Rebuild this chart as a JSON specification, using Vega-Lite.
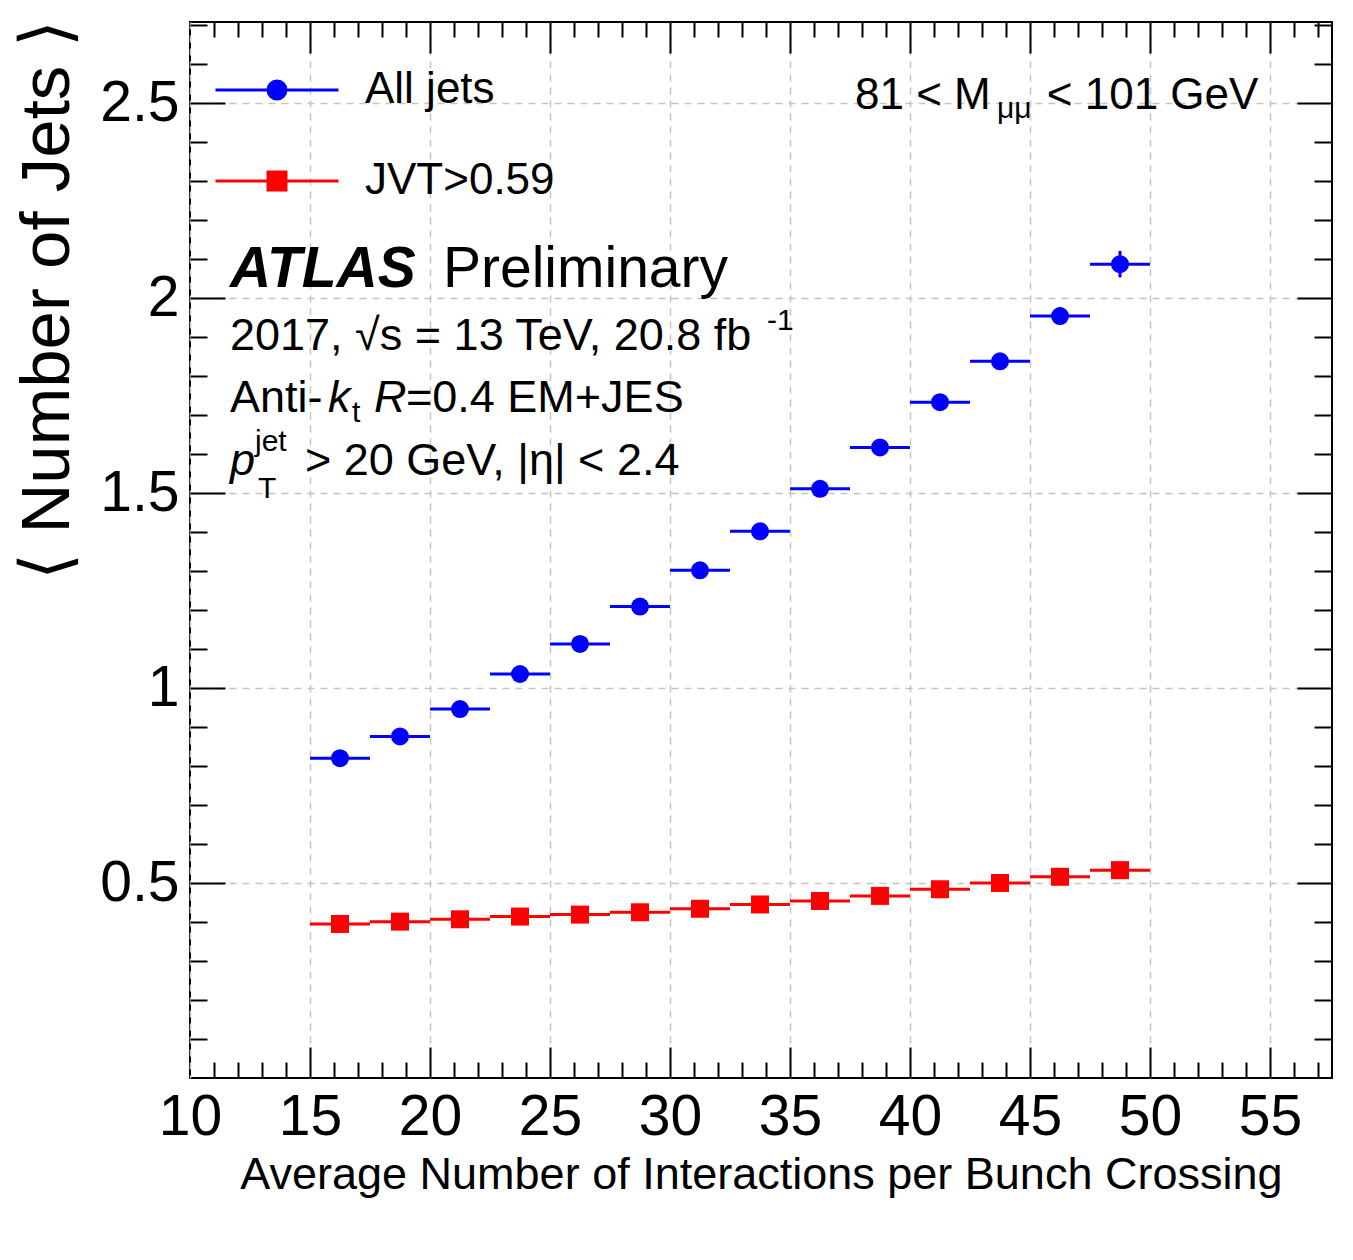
{
  "$schema": "https://vega.github.io/schema/vega-lite/v6.json",
  "width": 1142,
  "height": 1056,
  "autosize": {"type": "none"},
  "padding": {"left": 190, "top": 22, "right": 21, "bottom": 182},
  "background": "white",
  "config": {
    "view": {"stroke": "black", "strokeWidth": 2, "fill": "white"},
    "font": "Liberation Sans",
    "axis": {
      "domain": false,
      "labelFont": "Liberation Sans",
      "titleFont": "Liberation Sans",
      "labelColor": "black",
      "titleColor": "black",
      "tickColor": "black",
      "tickWidth": 2,
      "titleFontWeight": "normal",
      "labelFlush": false,
      "labelOverlap": false,
      "labelBound": false
    },
    "legend": {
      "title": null, "orient": "none", "legendX": 24, "legendY": 5, "direction": "vertical",
      "padding": 0, "rowPadding": 6, "labelFont": "Liberation Sans", "labelFontSize": 44,
      "labelColor": "black", "labelOffset": 25, "labelLimit": 500,
      "symbolSize": 15129, "symbolStrokeWidth": 3, "symbolOpacity": 1
    },
    "text": {"font": "Liberation Sans", "color": "black", "align": "left", "baseline": "alphabetic"}
  },
  "datasets": {
    "jets": [
      {"series": "All jets", "lo": 15, "hi": 17.5, "mu": 16.25, "val": 0.820, "ylo": 0.816, "yhi": 0.824},
      {"series": "All jets", "lo": 17.5, "hi": 20, "mu": 18.75, "val": 0.876, "ylo": 0.872, "yhi": 0.880},
      {"series": "All jets", "lo": 20, "hi": 22.5, "mu": 21.25, "val": 0.946, "ylo": 0.941, "yhi": 0.951},
      {"series": "All jets", "lo": 22.5, "hi": 25, "mu": 23.75, "val": 1.036, "ylo": 1.031, "yhi": 1.041},
      {"series": "All jets", "lo": 25, "hi": 27.5, "mu": 26.25, "val": 1.113, "ylo": 1.107, "yhi": 1.119},
      {"series": "All jets", "lo": 27.5, "hi": 30, "mu": 28.75, "val": 1.209, "ylo": 1.202, "yhi": 1.216},
      {"series": "All jets", "lo": 30, "hi": 32.5, "mu": 31.25, "val": 1.302, "ylo": 1.294, "yhi": 1.310},
      {"series": "All jets", "lo": 32.5, "hi": 35, "mu": 33.75, "val": 1.402, "ylo": 1.393, "yhi": 1.411},
      {"series": "All jets", "lo": 35, "hi": 37.5, "mu": 36.25, "val": 1.511, "ylo": 1.500, "yhi": 1.522},
      {"series": "All jets", "lo": 37.5, "hi": 40, "mu": 38.75, "val": 1.617, "ylo": 1.604, "yhi": 1.630},
      {"series": "All jets", "lo": 40, "hi": 42.5, "mu": 41.25, "val": 1.733, "ylo": 1.718, "yhi": 1.748},
      {"series": "All jets", "lo": 42.5, "hi": 45, "mu": 43.75, "val": 1.838, "ylo": 1.820, "yhi": 1.856},
      {"series": "All jets", "lo": 45, "hi": 47.5, "mu": 46.25, "val": 1.954, "ylo": 1.932, "yhi": 1.976},
      {"series": "All jets", "lo": 47.5, "hi": 50, "mu": 48.75, "val": 2.087, "ylo": 2.053, "yhi": 2.121},
      {"series": "JVT>0.59", "lo": 15, "hi": 17.5, "mu": 16.25, "val": 0.395, "ylo": 0.393, "yhi": 0.397},
      {"series": "JVT>0.59", "lo": 17.5, "hi": 20, "mu": 18.75, "val": 0.401, "ylo": 0.399, "yhi": 0.403},
      {"series": "JVT>0.59", "lo": 20, "hi": 22.5, "mu": 21.25, "val": 0.407, "ylo": 0.405, "yhi": 0.409},
      {"series": "JVT>0.59", "lo": 22.5, "hi": 25, "mu": 23.75, "val": 0.414, "ylo": 0.412, "yhi": 0.416},
      {"series": "JVT>0.59", "lo": 25, "hi": 27.5, "mu": 26.25, "val": 0.419, "ylo": 0.417, "yhi": 0.421},
      {"series": "JVT>0.59", "lo": 27.5, "hi": 30, "mu": 28.75, "val": 0.425, "ylo": 0.423, "yhi": 0.427},
      {"series": "JVT>0.59", "lo": 30, "hi": 32.5, "mu": 31.25, "val": 0.434, "ylo": 0.432, "yhi": 0.436},
      {"series": "JVT>0.59", "lo": 32.5, "hi": 35, "mu": 33.75, "val": 0.445, "ylo": 0.443, "yhi": 0.447},
      {"series": "JVT>0.59", "lo": 35, "hi": 37.5, "mu": 36.25, "val": 0.454, "ylo": 0.452, "yhi": 0.456},
      {"series": "JVT>0.59", "lo": 37.5, "hi": 40, "mu": 38.75, "val": 0.467, "ylo": 0.465, "yhi": 0.469},
      {"series": "JVT>0.59", "lo": 40, "hi": 42.5, "mu": 41.25, "val": 0.484, "ylo": 0.482, "yhi": 0.486},
      {"series": "JVT>0.59", "lo": 42.5, "hi": 45, "mu": 43.75, "val": 0.500, "ylo": 0.497, "yhi": 0.503},
      {"series": "JVT>0.59", "lo": 45, "hi": 47.5, "mu": 46.25, "val": 0.516, "ylo": 0.513, "yhi": 0.519},
      {"series": "JVT>0.59", "lo": 47.5, "hi": 50, "mu": 48.75, "val": 0.533, "ylo": 0.529, "yhi": 0.537}
    ]
  },
  "layer": [
    {
      "data": {"name": "jets"},
      "mark": {"type": "rule", "strokeWidth": 3},
      "encoding": {
        "x": {"field": "lo", "type": "quantitative",
          "scale": {"domain": [10, 57.583], "nice": false, "zero": false},
          "axis": {"orient": "bottom", "values": [10, 15, 20, 25, 30, 35, 40, 45, 50, 55], "format": "~g",
            "ticks": false, "labelFontSize": 57, "labelPadding": 56, "labelBaseline": "alphabetic",
            "grid": true, "gridDash": [7, 6], "gridColor": "#c4c4c4", "gridWidth": 1.5,
            "title": "Average Number of Interactions per Bunch Crossing", "titleFontSize": 45,
            "titleX": 1092, "titleY": 110, "titleAlign": "right", "titleBaseline": "alphabetic", "titleAnchor": "end"}},
        "x2": {"field": "hi"},
        "y": {"field": "val", "type": "quantitative",
          "scale": {"domain": [0, 2.708], "nice": false, "zero": false},
          "axis": {"orient": "left", "values": [0.5, 1, 1.5, 2, 2.5], "format": "~g",
            "ticks": false, "labelFontSize": 57, "labelPadding": 11,
            "grid": true, "gridDash": [7, 6], "gridColor": "#c4c4c4", "gridWidth": 1.5,
            "title": "⟨ Number of Jets ⟩", "titleFontSize": 69, "titleAngle": 270,
            "titleX": -122, "titleY": -3, "titleAlign": "right", "titleBaseline": "alphabetic", "titleAnchor": "end"}},
        "color": {"field": "series", "type": "nominal",
          "scale": {"domain": ["All jets", "JVT>0.59"], "range": ["#0000ff", "#ff0000"]},
          "legend": {
            "symbolType": "M-1,0L1,0",
            "encode": {"symbols": {"update": {
              "shape": {"signal": "datum.value === 'All jets' ? 'M-1,0L1,0M0.146,0A0.146,0.146,0,1,1,-0.146,0A0.146,0.146,0,1,1,0.146,0Z' : 'M-1,0L1,0M-0.146,-0.146L0.146,-0.146L0.146,0.146L-0.146,0.146Z'"},
              "fill": {"scale": "color", "field": "value"},
              "stroke": {"scale": "color", "field": "value"},
              "size": {"value": 15129},
              "strokeWidth": {"value": 3},
              "opacity": {"value": 1}
            }}}
          }}
      }
    },
    {
      "data": {"name": "jets"},
      "mark": {"type": "rule", "strokeWidth": 3},
      "encoding": {
        "x": {"field": "mu", "type": "quantitative",
          "scale": {"domain": [10, 57.583], "nice": false, "zero": false},
          "axis": {"orient": "bottom", "values": [15, 20, 25, 30, 35, 40, 45, 50, 55], "labels": false, "grid": false,
            "ticks": true, "tickSize": -31, "title": null}},
        "y": {"field": "ylo", "type": "quantitative",
          "scale": {"domain": [0, 2.708], "nice": false, "zero": false},
          "axis": {"orient": "left", "values": [0.5, 1, 1.5, 2, 2.5], "labels": false, "grid": false,
            "ticks": true, "tickSize": -35, "title": null}},
        "y2": {"field": "yhi"},
        "color": {"field": "series", "type": "nominal",
          "scale": {"domain": ["All jets", "JVT>0.59"], "range": ["#0000ff", "#ff0000"]}}
      }
    },
    {
      "data": {"name": "jets"},
      "transform": [{"filter": "datum.series === 'All jets'"}],
      "mark": {"type": "point", "shape": "circle", "filled": true, "size": 324, "opacity": 1},
      "encoding": {
        "x": {"field": "mu", "type": "quantitative",
          "scale": {"domain": [10, 57.583], "nice": false, "zero": false},
          "axis": {"orient": "bottom", "values": [11,12,13,14,16,17,18,19,21,22,23,24,26,27,28,29,31,32,33,34,36,37,38,39,41,42,43,44,46,47,48,49,51,52,53,54,56,57],
            "labels": false, "grid": false, "ticks": true, "tickSize": -16, "title": null}},
        "y": {"field": "val", "type": "quantitative",
          "scale": {"domain": [0, 2.708], "nice": false, "zero": false},
          "axis": {"orient": "left", "values": [0.1,0.2,0.3,0.4,0.6,0.7,0.8,0.9,1.1,1.2,1.3,1.4,1.6,1.7,1.8,1.9,2.1,2.2,2.3,2.4,2.6,2.7],
            "labels": false, "grid": false, "ticks": true, "tickSize": -17, "title": null}},
        "color": {"field": "series", "type": "nominal",
          "scale": {"domain": ["All jets", "JVT>0.59"], "range": ["#0000ff", "#ff0000"]}}
      }
    },
    {
      "data": {"name": "jets"},
      "transform": [{"filter": "datum.series === 'JVT>0.59'"}],
      "mark": {"type": "point", "shape": "square", "filled": true, "size": 324, "opacity": 1},
      "encoding": {
        "x": {"field": "mu", "type": "quantitative", "scale": {"domain": [10, 57.583], "nice": false, "zero": false}, "axis": null},
        "y": {"field": "val", "type": "quantitative", "scale": {"domain": [0, 2.708], "nice": false, "zero": false}, "axis": null},
        "color": {"field": "series", "type": "nominal",
          "scale": {"domain": ["All jets", "JVT>0.59"], "range": ["#0000ff", "#ff0000"]}}
      }
    },
    {
      "data": {"values": [{}]},
      "mark": {"type": "text", "text": "ATLAS", "fontSize": 57, "fontWeight": "bold", "fontStyle": "italic"},
      "encoding": {
        "x": {"datum": 11.667, "type": "quantitative", "scale": {"domain": [10, 57.583], "nice": false, "zero": false},
          "axis": {"orient": "top", "values": [15, 20, 25, 30, 35, 40, 45, 50, 55], "labels": false, "grid": false, "ticks": true, "tickSize": -31, "title": null}},
        "y": {"datum": 2.028, "type": "quantitative", "scale": {"domain": [0, 2.708], "nice": false, "zero": false},
          "axis": {"orient": "right", "values": [0.5, 1, 1.5, 2, 2.5], "labels": false, "grid": false, "ticks": true, "tickSize": -35, "title": null}}
      }
    },
    {
      "data": {"values": [{}]},
      "mark": {"type": "text", "text": "Preliminary", "fontSize": 57},
      "encoding": {
        "x": {"datum": 20.54, "type": "quantitative", "scale": {"domain": [10, 57.583], "nice": false, "zero": false},
          "axis": {"orient": "top", "values": [11,12,13,14,16,17,18,19,21,22,23,24,26,27,28,29,31,32,33,34,36,37,38,39,41,42,43,44,46,47,48,49,51,52,53,54,56,57],
            "labels": false, "grid": false, "ticks": true, "tickSize": -15, "title": null}},
        "y": {"datum": 2.028, "type": "quantitative", "scale": {"domain": [0, 2.708], "nice": false, "zero": false},
          "axis": {"orient": "right", "values": [0.1,0.2,0.3,0.4,0.6,0.7,0.8,0.9,1.1,1.2,1.3,1.4,1.6,1.7,1.8,1.9,2.1,2.2,2.3,2.4,2.6,2.7],
            "labels": false, "grid": false, "ticks": true, "tickSize": -18, "title": null}}
      }
    },
    {"data": {"values": [{}]}, "mark": {"type": "text", "text": "81 < M", "fontSize": 44},
      "encoding": {"x": {"datum": 37.708, "type": "quantitative", "axis": null}, "y": {"datum": 2.4846, "type": "quantitative", "axis": null}}},
    {"data": {"values": [{}]}, "mark": {"type": "text", "text": "μμ", "fontSize": 30},
      "encoding": {"x": {"datum": 43.625, "type": "quantitative", "axis": null}, "y": {"datum": 2.4615, "type": "quantitative", "axis": null}}},
    {"data": {"values": [{}]}, "mark": {"type": "text", "text": "< 101 GeV", "fontSize": 44},
      "encoding": {"x": {"datum": 45.7, "type": "quantitative", "axis": null}, "y": {"datum": 2.4846, "type": "quantitative", "axis": null}}},
    {"data": {"values": [{}]}, "mark": {"type": "text", "text": "2017, √s = 13 TeV, 20.8 fb", "fontSize": 45},
      "encoding": {"x": {"datum": 11.667, "type": "quantitative", "axis": null}, "y": {"datum": 1.867, "type": "quantitative", "axis": null}}},
    {"data": {"values": [{}]}, "mark": {"type": "text", "text": "-1", "fontSize": 30},
      "encoding": {"x": {"datum": 34.04, "type": "quantitative", "axis": null}, "y": {"datum": 1.918, "type": "quantitative", "axis": null}}},
    {"data": {"values": [{}]}, "mark": {"type": "text", "text": "Anti-", "fontSize": 45},
      "encoding": {"x": {"datum": 11.667, "type": "quantitative", "axis": null}, "y": {"datum": 1.708, "type": "quantitative", "axis": null}}},
    {"data": {"values": [{}]}, "mark": {"type": "text", "text": "k", "fontSize": 45, "fontStyle": "italic"},
      "encoding": {"x": {"datum": 15.75, "type": "quantitative", "axis": null}, "y": {"datum": 1.708, "type": "quantitative", "axis": null}}},
    {"data": {"values": [{}]}, "mark": {"type": "text", "text": "t", "fontSize": 30},
      "encoding": {"x": {"datum": 16.75, "type": "quantitative", "axis": null}, "y": {"datum": 1.682, "type": "quantitative", "axis": null}}},
    {"data": {"values": [{}]}, "mark": {"type": "text", "text": "R", "fontSize": 45, "fontStyle": "italic"},
      "encoding": {"x": {"datum": 17.667, "type": "quantitative", "axis": null}, "y": {"datum": 1.708, "type": "quantitative", "axis": null}}},
    {"data": {"values": [{}]}, "mark": {"type": "text", "text": "=0.4 EM+JES", "fontSize": 45},
      "encoding": {"x": {"datum": 19.0, "type": "quantitative", "axis": null}, "y": {"datum": 1.708, "type": "quantitative", "axis": null}}},
    {"data": {"values": [{}]}, "mark": {"type": "text", "text": "p", "fontSize": 45, "fontStyle": "italic"},
      "encoding": {"x": {"datum": 11.667, "type": "quantitative", "axis": null}, "y": {"datum": 1.546, "type": "quantitative", "axis": null}}},
    {"data": {"values": [{}]}, "mark": {"type": "text", "text": "jet", "fontSize": 30},
      "encoding": {"x": {"datum": 12.708, "type": "quantitative", "axis": null}, "y": {"datum": 1.607, "type": "quantitative", "axis": null}}},
    {"data": {"values": [{}]}, "mark": {"type": "text", "text": "T", "fontSize": 30},
      "encoding": {"x": {"datum": 12.83, "type": "quantitative", "axis": null}, "y": {"datum": 1.487, "type": "quantitative", "axis": null}}},
    {"data": {"values": [{}]}, "mark": {"type": "text", "text": "> 20 GeV, |η| < 2.4", "fontSize": 45},
      "encoding": {"x": {"datum": 14.79, "type": "quantitative", "axis": null}, "y": {"datum": 1.546, "type": "quantitative", "axis": null}}}
  ],
  "resolve": {"axis": {"x": "independent", "y": "independent"}}
}
